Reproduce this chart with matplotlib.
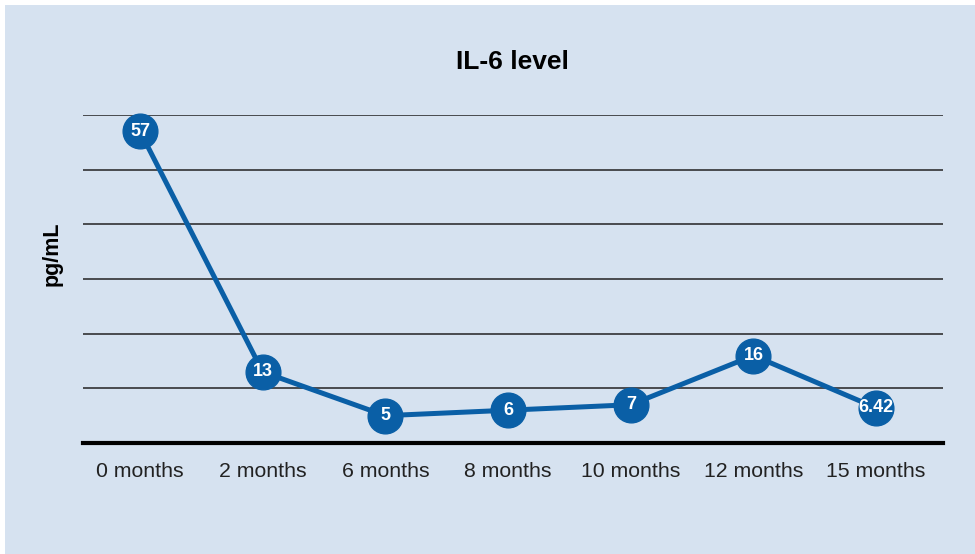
import matplotlib
matplotlib.use("Agg")
import matplotlib.pyplot as plt
from matplotlib.patches import Rectangle

plt.rcParams['font.family'] = ['Liberation Sans', 'DejaVu Sans']

months = ["0 months", "2 months", "6 months", "8 months", "10 months", "12 months", "15 months"]
il6 = [57, 13, 5, 6, 7, 16, 6.42]
labels = ["57", "13", "5", "6", "7", "16", "6.42"]

bg = "#d6e2f0"
blue = "#0a5fa6"

fig = plt.figure(figsize=(9.75, 5.54), dpi=100)
fig.patch.set_facecolor("white")
fig.patches.append(Rectangle((5 / 975, 0), 1, 1 - 5 / 554, transform=fig.transFigure,
                             facecolor=bg, edgecolor="none", zorder=-10))

ax = fig.add_axes([83 / 975, 1 - 443 / 554, (943 - 83) / 975, (443 - 115) / 554])
ax.set_facecolor("none")

x = list(range(len(months)))
ax.plot(x, il6, color=blue, linewidth=3.6, marker="o", markersize=25,
        markerfacecolor=blue, markeredgecolor=blue, zorder=3, clip_on=False)
for xi, v, t in zip(x, il6, labels):
    ax.text(xi, v, t, ha="center", va="center", color="white",
            fontsize=13, fontweight="bold", zorder=4)

ax.set_xlim(-0.465, 6.545)
ax.set_ylim(0, 60)
ax.set_yticks([10, 20, 30, 40, 50, 60])
ax.set_yticklabels([])
ax.tick_params(axis="y", length=0)
ax.grid(axis="y", color="#222222", linewidth=1.1, zorder=1)
ax.set_axisbelow(True)
ax.set_xticks(x)
ax.set_xticklabels(months, fontsize=15.3, color="#222222")
ax.tick_params(axis="x", length=0, pad=14)

for s in ["top", "right", "left"]:
    ax.spines[s].set_visible(False)
ax.spines["bottom"].set_linewidth(3)
ax.spines["bottom"].set_color("black")

fig.text(52 / 975, 1 - 254 / 554, "pg/mL", rotation=90, ha="center", va="center",
         fontsize=15.5, fontweight="bold")
fig.text(512 / 975, 1 - 62 / 554, "IL-6 level", ha="center", va="center",
         fontsize=19, fontweight="bold")

fig.savefig("out.png", dpi=100)
